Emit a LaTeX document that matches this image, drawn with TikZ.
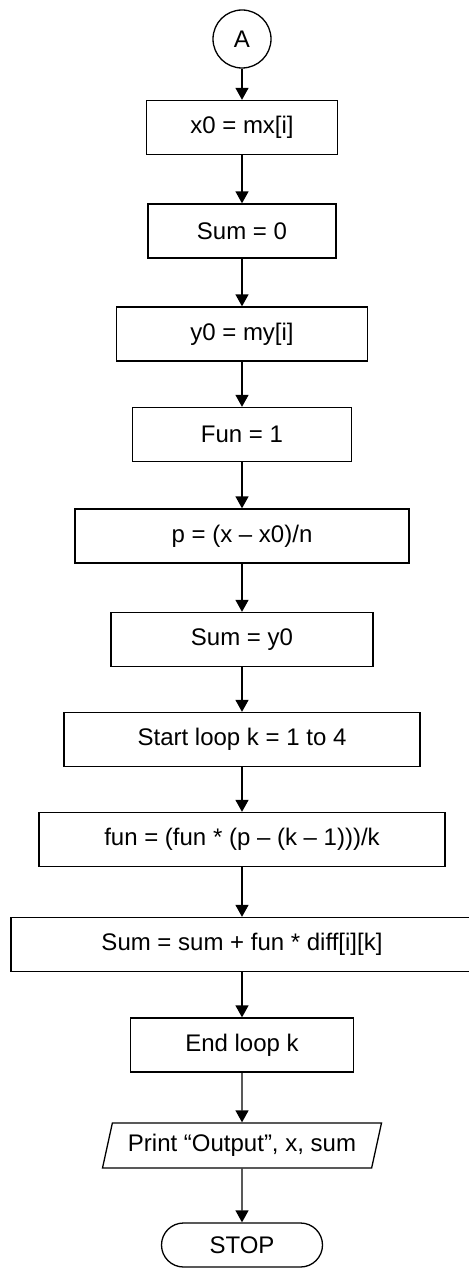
\documentclass[tikz,border=0pt]{standalone}
\usepackage{fontspec}
\setmainfont{Liberation Sans}
\usetikzlibrary{arrows.meta, shapes.geometric}

\begin{document}
\begin{tikzpicture}[x=0.5pt,y=-0.5pt,
  every node/.style={font=\fontsize{12pt}{14pt}\selectfont},
  box/.style={draw,line width=0.65pt,minimum height=27pt,inner sep=2pt},
  iobox/.style={draw,line width=0.65pt,trapezium,trapezium left angle=72,
    trapezium right angle=108,trapezium stretches body,
    minimum height=22.5pt,minimum width=139.5pt,inner sep=2pt},
  termbox/.style={draw,line width=0.65pt,rounded corners=11pt,
    minimum height=22pt,minimum width=80.5pt},
  connbox/.style={draw,line width=0.65pt,circle,minimum size=29pt,inner sep=0pt},
  flow/.style={line width=0.65pt,-{Triangle[length=6pt,width=6.5pt]}}]
\useasboundingbox (0,0) rectangle (468,1268);
% connector and process boxes
\node[connbox] (A) at (242,39){A};
\node[box,minimum width=95.5pt] (x0) at (242,127.5){x0 = mx[i]};
\node[box,minimum width=94pt] (sumzero) at (242,231){Sum = 0};
\node[box,minimum width=125.5pt] (y0) at (242,334){y0 = my[i]};
\node[box,minimum width=109.5pt] (funone) at (242,434.5){Fun = 1};
\node[box,minimum width=167pt] (p) at (242,536){p = (x – x0)/n};
\node[box,minimum width=131pt] (sumy) at (242,639.5){Sum = y0};
\node[box,minimum width=178pt] (start) at (242,739.5){Start loop k = 1 to 4};
\node[box,minimum width=203pt] (fun) at (242,839.5){fun = (fun * (p – (k – 1)))/k};
\node[box,minimum width=231pt] (sumsum) at (242,944.5){Sum = sum + fun * diff[i][k]};
\node[box,minimum width=111.5pt] (endloop) at (242,1045){End loop k};
% output and end
\node[iobox] (print) at (242,1145.5){Print “Output”, x, sum};
\node[termbox] (stop) at (242,1245){STOP};

\foreach \a/\b in {A/x0,x0/sumzero,sumzero/y0,y0/funone,funone/p,p/sumy,
  sumy/start,start/fun,fun/sumsum,sumsum/endloop,endloop/print,print/stop}
  \draw[flow] (\a) -- (\b);
\end{tikzpicture}
\end{document}
